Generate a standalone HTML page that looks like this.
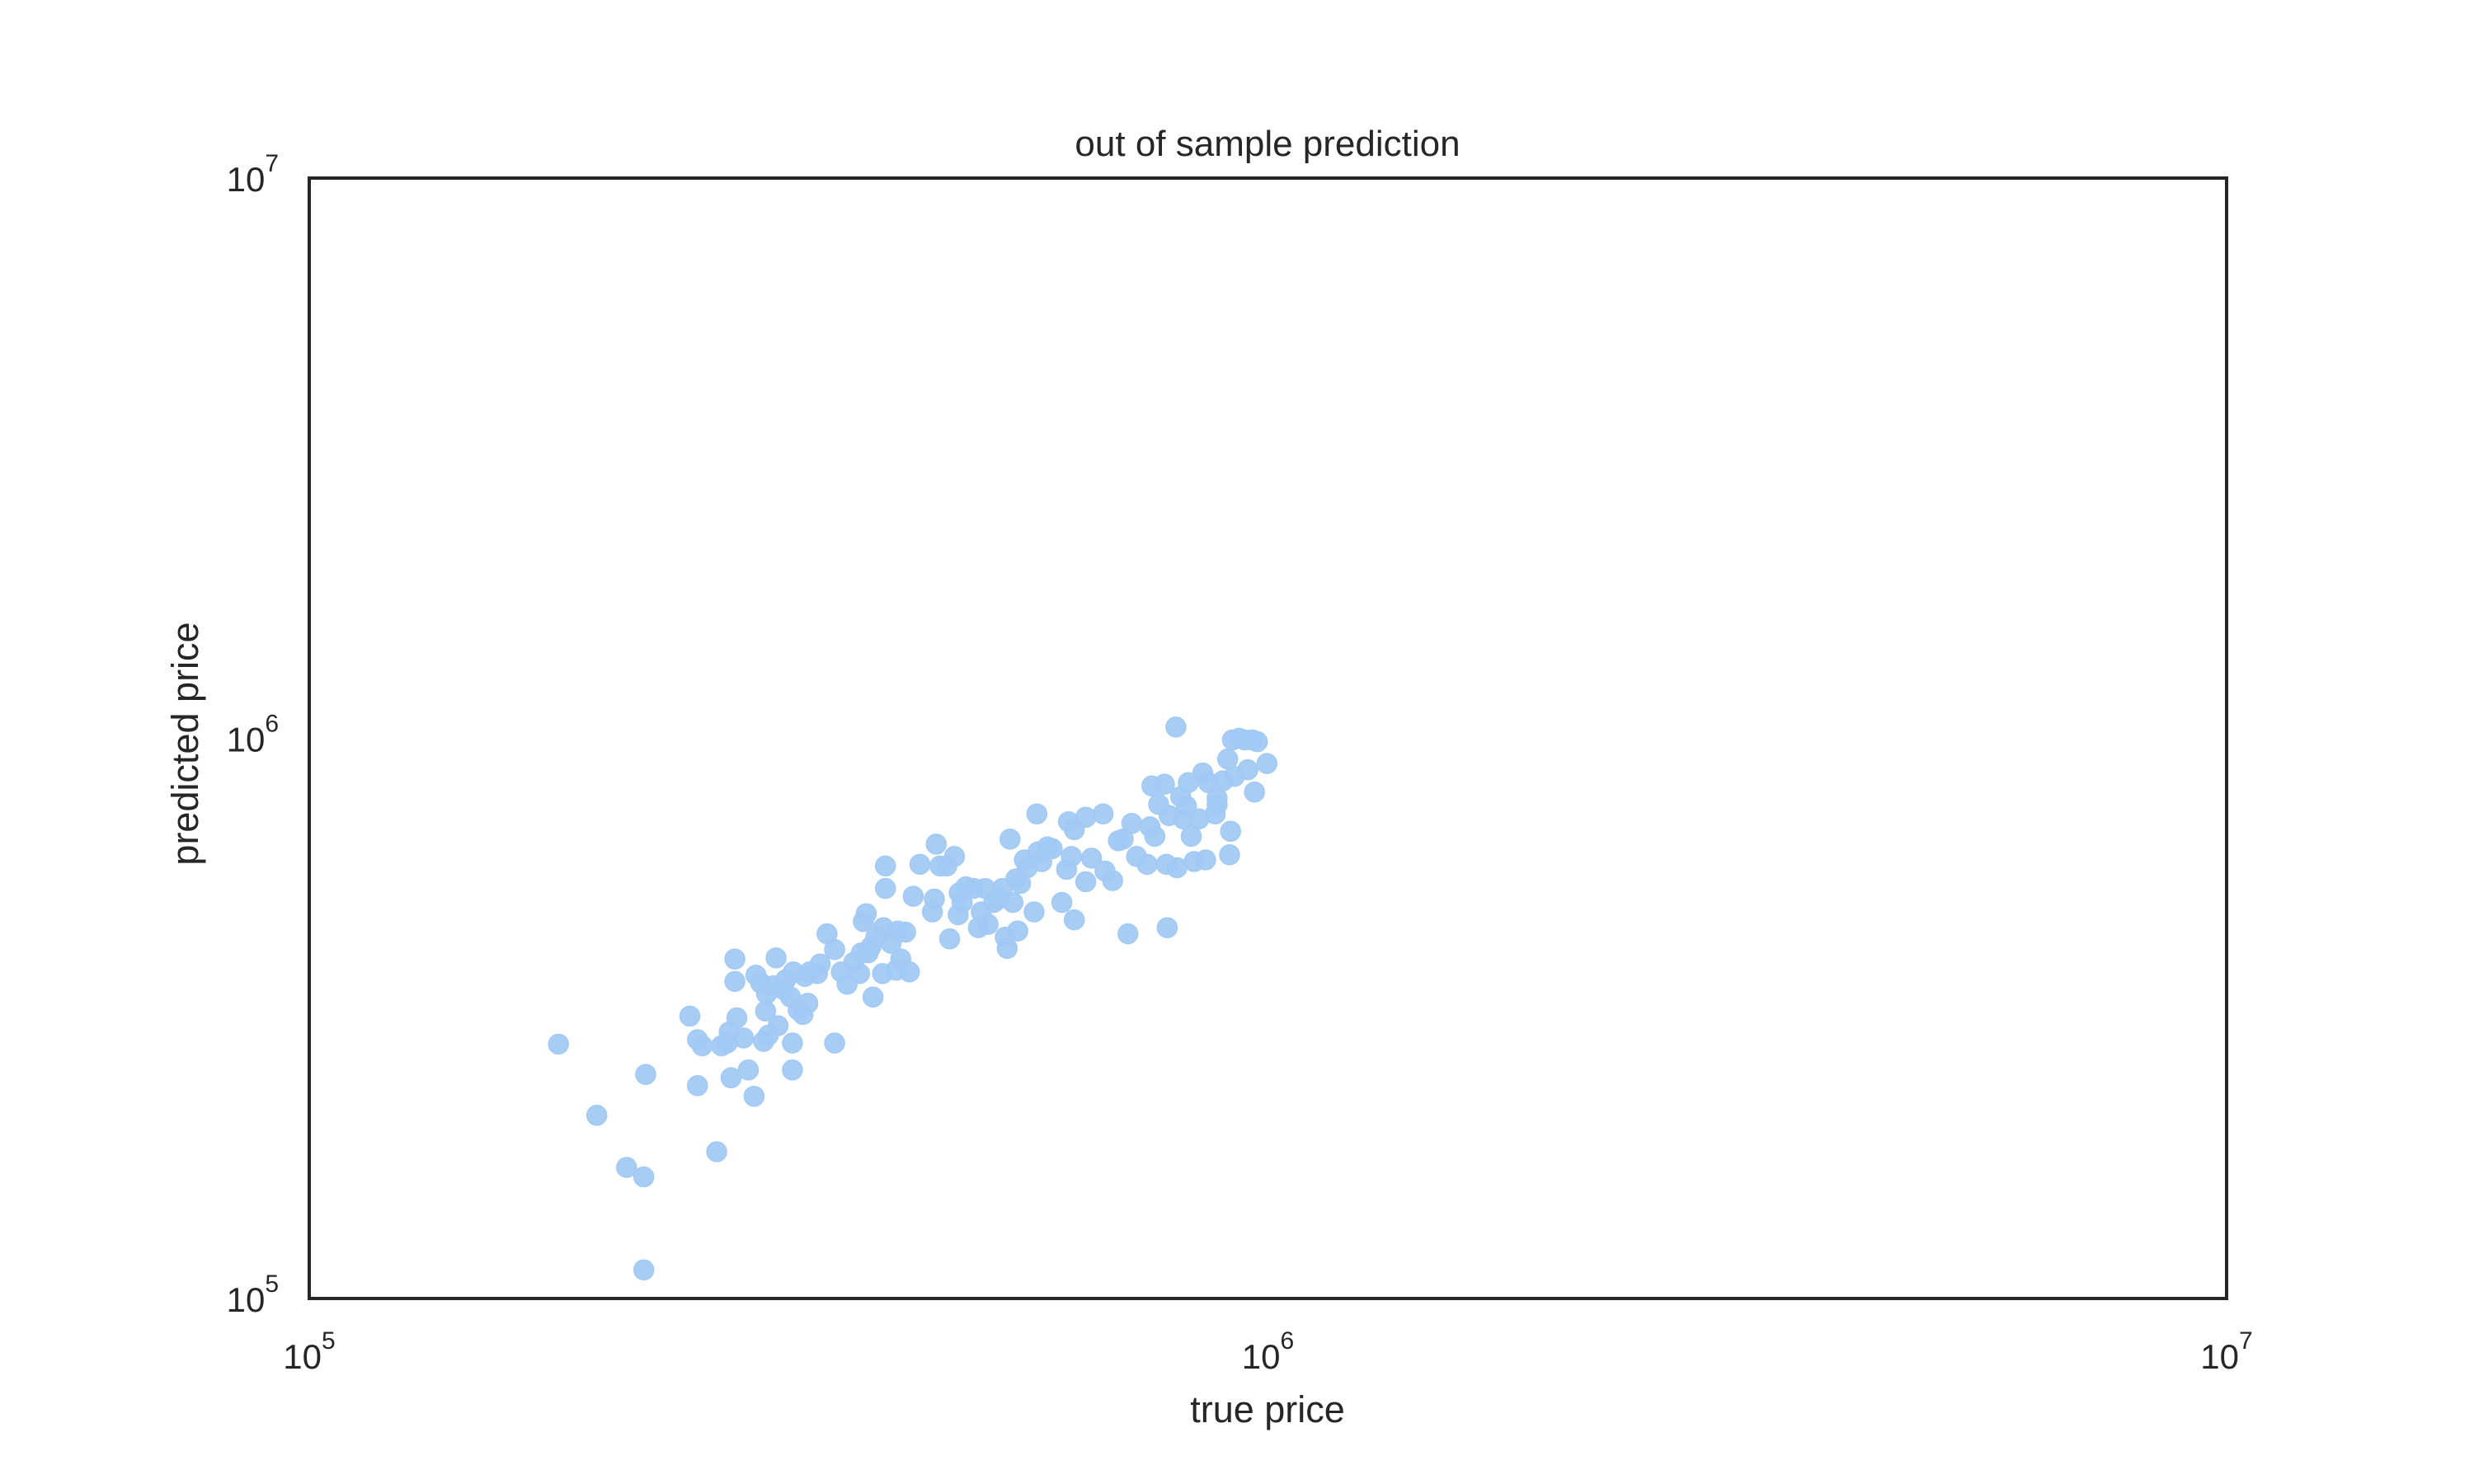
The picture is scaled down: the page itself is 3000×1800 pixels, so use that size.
<!DOCTYPE html>
<html>
<head>
<meta charset="utf-8">
<style>
html,body{margin:0;padding:0;background:#fff;}
svg{display:block;font-family:"Liberation Sans","DejaVu Sans",sans-serif;}
</style>
</head>
<body>
<svg id="chart" width="3000" height="1800" viewBox="0 0 3000 1800">
  <rect x="0" y="0" width="3000" height="1800" fill="#ffffff"/>
  <text x="1537" y="189" font-size="44" fill="#262626" text-anchor="middle">out of sample prediction</text>
  <g id="points"></g>
  <rect x="375" y="216" width="2325" height="1359" fill="none" stroke="#262626" stroke-width="4"/>
  <g id="xticks"></g>
  <g id="yticks"></g>
  <text x="1537" y="1725" font-size="45" fill="#262626" text-anchor="middle">true price</text>
  <text x="0" y="0" font-size="45" fill="#262626" text-anchor="middle" transform="translate(240,902) rotate(-90)">predicted price</text>
</svg>
<script>
// log10 of true price
const trueLog = [5.260,5.300,5.331,5.349,5.351,5.349,5.397,5.405,5.410,5.405,5.425,5.430,5.436,5.438,5.440,5.444,5.444,5.446,5.453,5.458,5.464,5.466,5.471,5.474,5.476,5.477,5.479,5.484,5.487,5.489,5.494,5.497,5.502,5.504,5.504,5.505,5.510,5.515,5.520,5.522,5.530,5.533,5.540,5.548,5.548,5.555,5.561,5.568,5.574,5.576,5.578,5.581,5.586,5.588,5.591,5.598,5.599,5.601,5.601,5.607,5.612,5.614,5.617,5.622,5.630,5.637,5.650,5.652,5.654,5.658,5.665,5.668,5.673,5.677,5.678,5.681,5.685,5.693,5.698,5.701,5.705,5.708,5.714,5.719,5.723,5.726,5.728,5.731,5.734,5.737,5.739,5.742,5.746,5.749,5.756,5.759,5.760,5.764,5.770,5.775,5.785,5.790,5.792,5.795,5.798,5.810,5.810,5.816,5.828,5.838,5.844,5.849,5.854,5.858,5.863,5.874,5.877,5.879,5.882,5.886,5.892,5.894,5.897,5.904,5.905,5.909,5.912,5.915,5.917,5.920,5.923,5.928,5.932,5.935,5.938,5.945,5.947,5.953,5.958,5.960,5.961,5.963,5.965,5.970,5.976,5.979,5.984,5.986,5.999,5.989,5.947,5.895,5.830,5.798,5.626,5.583,5.517];
// log10 of predicted price
const predLog = [5.454,5.327,5.234,5.217,5.400,5.051,5.504,5.462,5.451,5.380,5.262,5.451,5.456,5.476,5.394,5.606,5.566,5.501,5.465,5.408,5.361,5.577,5.563,5.459,5.513,5.544,5.470,5.558,5.608,5.487,5.552,5.569,5.538,5.456,5.408,5.583,5.515,5.507,5.527,5.583,5.580,5.597,5.651,5.456,5.623,5.583,5.561,5.600,5.580,5.617,5.673,5.687,5.628,5.538,5.645,5.580,5.662,5.772,5.732,5.634,5.586,5.656,5.606,5.654,5.718,5.775,5.690,5.713,5.811,5.772,5.772,5.642,5.789,5.685,5.724,5.707,5.735,5.732,5.662,5.690,5.732,5.668,5.707,5.713,5.732,5.645,5.625,5.820,5.707,5.749,5.656,5.741,5.783,5.769,5.690,5.865,5.797,5.780,5.806,5.803,5.707,5.766,5.851,5.789,5.837,5.859,5.744,5.786,5.865,5.746,5.817,5.820,5.651,5.848,5.789,5.775,5.842,5.915,5.825,5.882,5.918,5.775,5.862,6.020,5.769,5.896,5.856,5.879,5.921,5.825,5.780,5.856,5.938,5.783,5.921,5.865,5.882,5.924,5.963,5.792,5.834,5.997,5.932,6.000,5.997,5.944,5.997,5.904,5.955,5.994,5.893,5.662,5.763,5.676,5.583,5.617,5.575];
const xTickExp = [5, 6, 7];
const yTickExp = [5, 6, 7];

const NS = 'http://www.w3.org/2000/svg';
const X0 = 375, X1 = 2700, Y0 = 1575, Y1 = 216, LMIN = 5, LMAX = 7;
function xScale(l){ return X0 + (l - LMIN) / (LMAX - LMIN) * (X1 - X0); }
function yScale(l){ return Y0 - (l - LMIN) / (LMAX - LMIN) * (Y0 - Y1); }

const pg = document.getElementById('points');
for (let i = 0; i < trueLog.length; i++) {
  const c = document.createElementNS(NS, 'circle');
  c.setAttribute('cx', xScale(trueLog[i]).toFixed(1));
  c.setAttribute('cy', yScale(predLog[i]).toFixed(1));
  c.setAttribute('r', 12);
  c.setAttribute('fill', '#a1c9f4');
  c.setAttribute('fill-opacity', '0.92');
  c.setAttribute('stroke', '#a1c9f4');
  c.setAttribute('stroke-width', '1.5');
  
  
  pg.appendChild(c);
}

function tickLabel(parent, x, y, exp, anchor){
  const t = document.createElementNS(NS, 'text');
  t.setAttribute('x', x);
  t.setAttribute('y', y);
  t.setAttribute('font-size', '42');
  t.setAttribute('fill', '#262626');
  t.setAttribute('text-anchor', anchor);
  
  
  const base = document.createElementNS(NS, 'tspan');
  base.textContent = '10';
  const sup = document.createElementNS(NS, 'tspan');
  sup.setAttribute('font-size', '30');
  sup.setAttribute('dy', '-24');
  sup.textContent = String(exp);
  t.appendChild(base);
  t.appendChild(sup);
  parent.appendChild(t);
}
const xg = document.getElementById('xticks');
xTickExp.forEach(e => tickLabel(xg, xScale(e), 1660, e, 'middle'));
const yg = document.getElementById('yticks');
yTickExp.forEach(e => tickLabel(yg, 338, yScale(e) + 16, e, 'end'));
</script>
</body>
</html>
